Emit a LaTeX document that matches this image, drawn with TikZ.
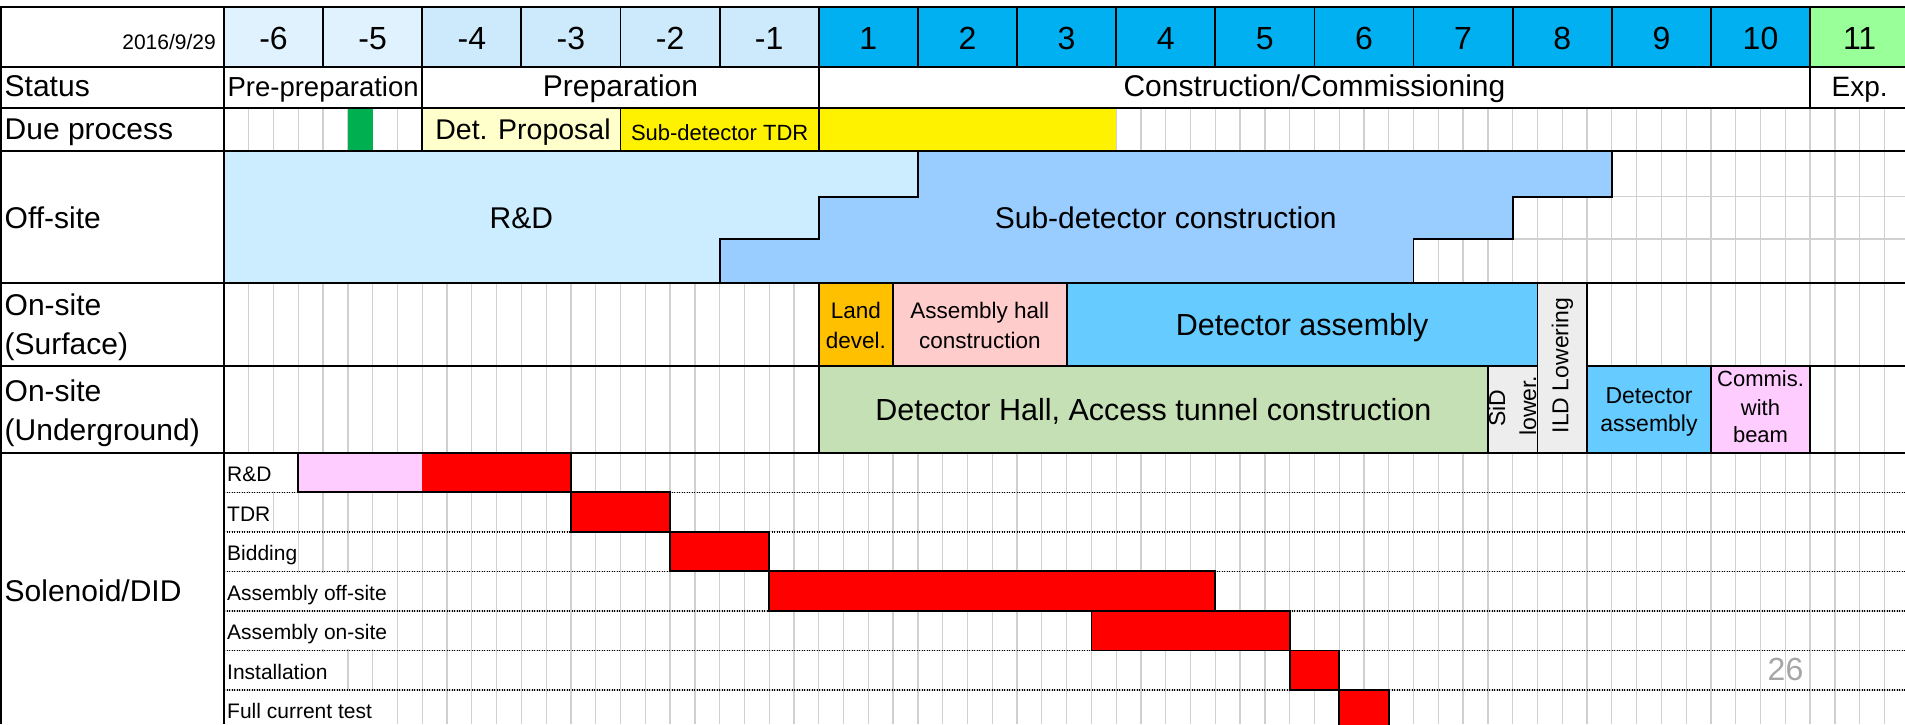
\documentclass[tikz,border=0pt]{standalone}
\usepackage{fontspec}
\setmainfont{Liberation Sans}
\definecolor{hdrA}{HTML}{E0F2FE}
\definecolor{hdrB}{HTML}{CDEAFC}
\definecolor{hdrC}{HTML}{00B0F0}
\definecolor{hdrD}{HTML}{99FF99}
\definecolor{rdblue}{HTML}{CCECFF}
\definecolor{subblue}{HTML}{99CCFF}
\definecolor{landor}{HTML}{FFC000}
\definecolor{hallpink}{HTML}{FFCCCC}
\definecolor{detblue}{HTML}{66CCFF}
\definecolor{lowgrey}{HTML}{EDEDED}
\definecolor{hallgreen}{HTML}{C5E0B4}
\definecolor{compink}{HTML}{FFCCFF}
\definecolor{duegreen}{HTML}{00B050}
\definecolor{propyel}{HTML}{FFFFCC}
\definecolor{gridgrey}{HTML}{D0D0D0}
\definecolor{pagegrey}{HTML}{A6A6A6}
\newcommand\fsz[1]{\fontsize{#1}{#1}\selectfont}
\def\X{224}
\def\q{24.7825}
\newcommand\jq[1]{\X+\q*(#1)}
\newcommand\cellbox[5]{\path[#1] ({\jq{#2}},#4) rectangle ({\jq{#3}},#5);}
\tikzset{
  lbl/.style={anchor=base west, font=\fsz{30}, inner sep=0pt},
  ctr/.style={anchor=base, inner sep=0pt},
  blk/.style={draw=black, line width=1.8pt},
  gridline/.style={draw=gridgrey, line width=1.3pt},
  dotline/.style={draw=black, line width=1.5pt, dash pattern=on 1.3pt off 1.2pt},
}
\begin{document}
\begin{tikzpicture}[x=1pt,y=-1pt]
\useasboundingbox (0,0) rectangle (1905,724);
\clip (0,0) rectangle (1905,724);
\fill[white] (0,0) rectangle (1905,724);

% grid
\foreach \j in {1,...,67} {\draw[gridline] ({\jq{\j}},108.3) -- ({\jq{\j}},724);}
\draw[gridline] (224,196.7) -- (1905,196.7);
\draw[gridline] (224,239) -- (1905,239);

% white backgrounds under solenoid sub-labels
\foreach \k/\e in {0/3,1/2,2/3,3/7,4/7,5/5,6/7}
  {\fill[white] (225.5,{452.7+39.55*\k+1.2}) rectangle ({\jq{\e}-0.9},{452.7+39.55*(\k+1)-1.2});}
% dotted sub-row lines
\foreach \k in {1,...,6} {\draw[gridline] (224,{452.7+39.55*\k}) -- (1905,{452.7+39.55*\k});
  \draw[dotline] (224,{452.7+39.55*\k}) -- (1905,{452.7+39.55*\k});}

% header fills
\foreach \i in {0,1} {\cellbox{fill=hdrA}{4*\i}{4*\i+4}{7.3}{66.7}}
\foreach \i in {2,...,5} {\cellbox{fill=hdrB}{4*\i}{4*\i+4}{7.3}{66.7}}
\foreach \i in {6,...,15} {\cellbox{fill=hdrC}{4*\i}{4*\i+4}{7.3}{66.7}}
\cellbox{fill=hdrD}{64}{68}{7.3}{66.7}

% due process fills
\cellbox{fill=duegreen}{5}{6}{108.3}{150.7}
\cellbox{fill=propyel}{8}{16}{108.3}{150.7}
\cellbox{fill=yellow}{16}{36}{108.3}{150.7}

% off-site R&D
\fill[rdblue] ({\jq{0}},150.7) -- ({\jq{28}},150.7) -- ({\jq{28}},196.7) -- ({\jq{24}},196.7)
  -- ({\jq{24}},239) -- ({\jq{20}},239) -- ({\jq{20}},283.3) -- ({\jq{0}},283.3) -- cycle;

% black table lines
\draw[blk] (0,7.3) -- (1905,7.3);
\foreach \yy in {66.7,108.3,150.7,283.3,452.7} {\draw[blk] (0,\yy) -- (1905,\yy);}
\draw[blk] (0,365.7) -- ({\jq{53}},365.7);
\draw[blk] ({\jq{55}},365.7) -- (1905,365.7);
\draw[blk] (1.2,7.3) -- (1.2,724);
\draw[blk] (224,7.3) -- (224,724);
\foreach \i in {1,...,16} {\draw[blk] ({\jq{4*\i}},7.3) -- ({\jq{4*\i}},66.7);}
\foreach \j in {8,24,64} {\draw[blk] ({\jq{\j}},66.7) -- ({\jq{\j}},108.3);}
\foreach \j in {8,16,24} {\draw[blk] ({\jq{\j}},108.3) -- ({\jq{\j}},150.7);}

% sub-detector construction
\path[blk, fill=subblue] ({\jq{28}},150.7) -- ({\jq{56}},150.7) -- ({\jq{56}},196.7) -- ({\jq{52}},196.7)
  -- ({\jq{52}},239) -- ({\jq{48}},239) -- ({\jq{48}},283.3) -- ({\jq{20}},283.3)
  -- ({\jq{20}},239) -- ({\jq{24}},239) -- ({\jq{24}},196.7) -- ({\jq{28}},196.7) -- cycle;

% surface / underground boxes
\cellbox{blk,fill=landor}{24}{27}{283.3}{365.7}
\cellbox{blk,fill=hallpink}{27}{34}{283.3}{365.7}
\cellbox{blk,fill=detblue}{34}{53}{283.3}{365.7}
\cellbox{blk,fill=lowgrey}{53}{55}{283.3}{452.7}
\cellbox{blk,fill=hallgreen}{24}{51}{365.7}{452.7}
\cellbox{blk,fill=lowgrey}{51}{53}{365.7}{452.7}
\cellbox{blk,fill=detblue}{55}{60}{365.7}{452.7}
\cellbox{blk,fill=compink}{60}{64}{365.7}{452.7}

% solenoid bars
\cellbox{fill=compink}{3}{8}{452.7}{492.25}
\cellbox{fill=red}{8}{14}{452.7}{492.25}
\cellbox{blk}{3}{14}{452.7}{492.25}
\cellbox{blk,fill=red}{14}{18}{492.25}{531.8}
\cellbox{blk,fill=red}{18}{22}{531.8}{571.35}
\cellbox{blk,fill=red}{22}{40}{571.35}{610.9}
\cellbox{blk,fill=red}{35}{43}{610.9}{650.45}
\cellbox{blk,fill=red}{43}{45}{650.45}{690}
\cellbox{blk,fill=red}{45}{47}{690}{729.55}

% header texts
\node[anchor=base east, inner sep=0pt, font=\fsz{21}] (date) at (216,49.5) {2016/9/29};
\foreach \i/\lab in {0/-6,1/-5,2/-4,3/-3,4/-2,5/-1,6/1,7/2,8/3,9/4,10/5,11/6,12/7,13/8,14/9,15/10,16/11}
  {\node[ctr, font=\fsz{32}] (yr\i) at ({\jq{4*\i+2}},49.3) {\lab};}

% status row
\node[lbl] (stat) at (4.5,96.7) {Status};
\node[ctr, font=\fsz{27.5}] (preprep) at ({\jq{4}},96.7) {Pre-preparation};
\node[ctr, font=\fsz{30}] (prep) at ({\jq{16}},96.7) {Preparation};
\node[ctr, font=\fsz{30}] (cons) at ({\jq{44}},96.7) {Construction/Commissioning};
\node[ctr, font=\fsz{28}] (exp) at ({\jq{66}},96.7) {Exp.};

% due process row
\node[lbl] (due) at (4.5,139.3) {Due process};
\node[ctr, font=\fsz{28.5}] (detprop) at (523,139.3) {Det. Proposal};
\node[ctr, font=\fsz{22}] (subtdr) at ({\jq{20}},140) {Sub-detector TDR};

% off-site
\node[lbl] (off) at (4.5,228.3) {Off-site};
\node[ctr, font=\fsz{30}] (rnd) at ({\jq{12}},228.3) {R\&D};
\node[ctr, font=\fsz{30}] (subcon) at ({\jq{38}},228.3) {Sub-detector construction};

% on-site surface
\node[lbl] (surfA) at (4.5,315) {On-site};
\node[lbl] (surfB) at (4.5,354) {(Surface)};
\node[ctr, font=\fsz{22.5}] (landA) at ({\jq{25.5}},318.3) {Land};
\node[ctr, font=\fsz{22.5}] (landB) at ({\jq{25.5}},348.3) {devel.};
\node[ctr, font=\fsz{22.5}] (hallA) at ({\jq{30.5}},318.3) {Assembly hall};
\node[ctr, font=\fsz{22.5}] (hallB) at ({\jq{30.5}},348.3) {construction};
\node[ctr, font=\fsz{30.5}] (detasm) at ({\jq{43.5}},335) {Detector assembly};
\node[ctr, font=\fsz{23}, rotate=90] (ild) at (1568.3,365.5) {ILD Lowering};

% on-site underground
\node[lbl] (undA) at (4.5,401.7) {On-site};
\node[lbl] (undB) at (4.5,440) {(Underground)};
\node[ctr, font=\fsz{30.5}] (dethall) at ({\jq{37.5}},420) {Detector Hall, Access tunnel construction};
\node[ctr, font=\fsz{23}, rotate=90] (sidA) at (1505,408.3) {SiD};
\node[ctr, font=\fsz{23}, rotate=90] (sidB) at (1536,405.8) {lower.};
\node[ctr, font=\fsz{23}] (dasmA) at ({\jq{57.5}},403.3) {Detector};
\node[ctr, font=\fsz{23}] (dasmB) at ({\jq{57.5}},431.7) {assembly};
\node[ctr, font=\fsz{22}] (comA) at ({\jq{62}},386.7) {Commis.};
\node[ctr, font=\fsz{22}] (comB) at ({\jq{62}},415) {with};
\node[ctr, font=\fsz{22}] (comC) at ({\jq{62}},442.7) {beam};

% solenoid
\node[lbl] (sol) at (4.5,601.7) {Solenoid/DID};
\foreach \k/\lab in {0/R\&D,1/TDR,2/Bidding,3/Assembly off-site,4/Assembly on-site,5/Installation,6/Full current test}
  {\node[anchor=base west, inner sep=0pt, font=\fsz{21}] (sub\k) at (227,{452.7+39.55*\k+28.9}) {\lab};}

% page number
\node[ctr, font=\fsz{32}, text=pagegrey] (page) at (1785.5,680) {26};
\end{tikzpicture}
\end{document}
